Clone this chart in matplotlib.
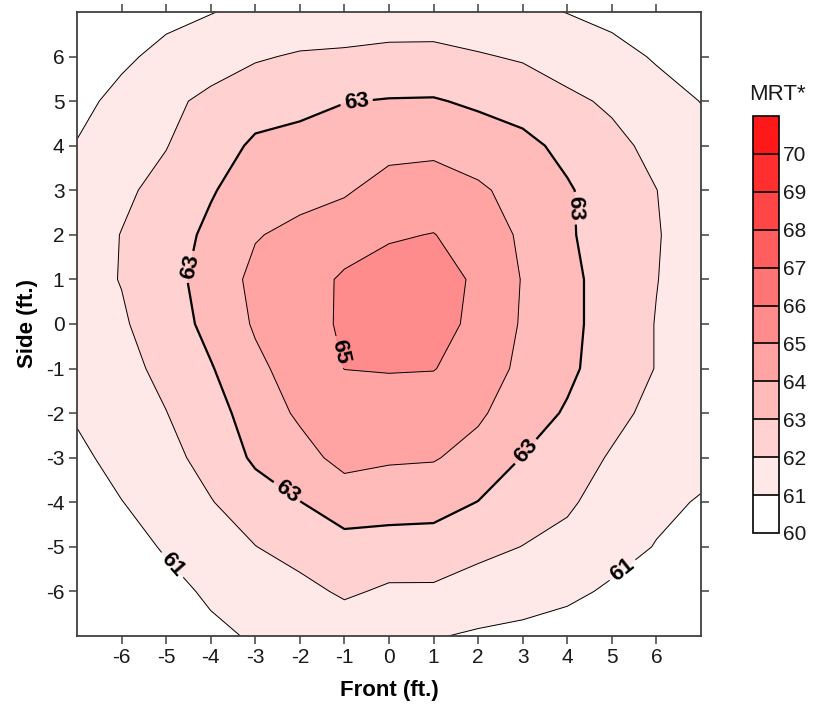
import numpy as np
import matplotlib
matplotlib.use("Agg")
import matplotlib.pyplot as plt

plt.rcParams['font.family'] = ['Liberation Sans', 'DejaVu Sans']
plt.rcParams['axes.unicode_minus'] = False

# grid positions (ft.)
front_ft = [-7, -6, -5, -4, -3, -2, -1, 0, 1, 2, 3, 4, 5, 6, 7]
side_ft = [7, 6, 5, 4, 3, 2, 1, 0, -1, -2, -3, -4, -5, -6, -7]

# MRT values, one row per side position (front -7 .. 7)
mrt_s7 = [60.1, 60.3, 60.7, 60.97, 61.2, 61.3, 61.4, 61.45, 61.5, 61.35, 61.2, 60.98, 60.7, 60.35, 60.05]
mrt_s6 = [60.4, 60.8, 61.3, 61.5, 61.9, 62.1, 62.15, 62.26, 62.25, 62.08, 61.9, 61.55, 61.35, 60.9, 60.5]
mrt_s5 = [60.7, 61.3, 61.75, 62.25, 62.6, 62.75, 62.97, 63.05, 63.07, 62.85, 62.6, 62.2, 61.85, 61.4, 60.98]
mrt_s4 = [61.05, 61.6, 61.97, 62.55, 63.15, 63.3, 63.55, 63.73, 63.8, 63.5, 63.25, 62.75, 62.25, 61.75, 61.3]
mrt_s3 = [61.35, 61.85, 62.25, 62.9, 63.6, 63.75, 63.9, 64.34, 64.4, 64.15, 63.65, 63.1, 62.5, 62.01, 61.5]
mrt_s2 = [61.6, 62.02, 62.45, 63.25, 63.95, 64.2, 64.5, 64.9, 65.03, 64.55, 63.85, 63.1, 62.6, 62.05, 61.6]
mrt_s1 = [61.7, 62.03, 62.55, 63.5, 64.2, 64.5, 65.15, 65.4, 65.4, 64.85, 63.95, 63.3, 62.5, 62.02, 61.6]
mrt_s0 = [61.6, 61.9, 62.45, 63.3, 64.1, 64.55, 65.15, 65.6, 65.3, 64.8, 63.9, 63.3, 62.5, 61.97, 61.55]
mrt_sm1 = [61.4, 61.7, 62.25, 62.93, 63.8, 64.4, 65.01, 65.05, 65.03, 64.6, 63.75, 63.2, 62.5, 61.97, 61.5]
mrt_sm2 = [61.1, 61.5, 61.98, 62.6, 63.45, 64.15, 64.55, 64.58, 64.5, 64.15, 63.45, 62.9, 62.3, 61.7, 61.35]
mrt_sm3 = [60.8, 61.3, 61.7, 62.35, 63.15, 63.65, 64.3, 64.12, 64.07, 63.65, 62.97, 62.5, 61.9, 61.4, 61.2]
mrt_sm4 = [60.5, 60.98, 61.4, 61.95, 62.55, 62.98, 63.45, 63.4, 63.35, 62.98, 62.55, 62.15, 61.55, 61.15, 60.95]
mrt_sm5 = [60.3, 60.6, 61.1, 61.5, 61.98, 62.4, 62.7, 62.62, 62.6, 62.3, 61.98, 61.7, 61.25, 60.97, 60.6]
mrt_sm6 = [60.15, 60.3, 60.7, 61.15, 61.5, 61.7, 62.15, 61.85, 61.85, 61.5, 61.35, 61.15, 60.9, 60.55, 60.3]
mrt_sm7 = [60.05, 60.1, 60.4, 60.8, 61.1, 61.25, 61.35, 61.15, 61.05, 60.9, 60.8, 60.7, 60.45, 60.2, 60.05]

levels = [60, 61, 62, 63, 64, 65, 66, 67, 68, 69, 70, 71]
plain_levels = [62, 64]
labelled_levels = [61, 63, 65]
cbar_ticks = [60, 61, 62, 63, 64, 65, 66, 67, 68, 69, 70]
band_colors = ['#ffffff', '#ffe8e8', '#ffd1d1', '#ffbaba', '#ffa3a3', '#ff8c8c',
               '#ff7575', '#ff5e5e', '#ff4646', '#ff2f2f', '#ff1818']

Z = np.array([mrt_s7, mrt_s6, mrt_s5, mrt_s4, mrt_s3, mrt_s2, mrt_s1, mrt_s0,
              mrt_sm1, mrt_sm2, mrt_sm3, mrt_sm4, mrt_sm5, mrt_sm6, mrt_sm7])
X, Y = np.meshgrid(front_ft, side_ft)

fig = plt.figure(figsize=(8.17, 7.08), dpi=100)
ax = fig.add_axes([0.0942, 0.1017, 0.7638, 0.8814])

cf = ax.contourf(X, Y, Z, levels=levels, colors=band_colors)
ax.contour(X, Y, Z, levels=plain_levels, colors='black', linewidths=0.7)
lw = [1.6 if lv == 63 else 0.7 for lv in labelled_levels]
cs = ax.contour(X, Y, Z, levels=labelled_levels, colors='black', linewidths=lw)

label_spots = [(-0.73, 5.0), (-4.47, 1.28), (4.27, 2.6), (-2.3, -3.78), (3.08, -2.87),
               (-1.11, -0.63), (-4.9, -5.44), (5.32, -5.62)]
lbls = ax.clabel(cs, manual=label_spots, fmt='%d',
                 fontsize=16, inline=True, inline_spacing=4)
for t in lbls:
    t.set_fontweight('bold')

ax.set_xlim(-7, 7)
ax.set_ylim(-7, 7)
ax.set_xticks(range(-6, 7))
ax.set_yticks(range(-6, 7))
ax.tick_params(direction='out', length=6, width=1.1, colors='#404040',
               labelcolor='#1a1a1a', labelsize=15, top=True, right=True,
               labeltop=False, labelright=False, pad=3)
for sp in ax.spines.values():
    sp.set_color('#404040')
    sp.set_linewidth(1.3)

ax.set_xlabel('Front (ft.)', fontsize=16, fontweight='bold', labelpad=9)
ax.set_ylabel('Side (ft.)', fontsize=16, fontweight='bold', labelpad=6)

cax = fig.add_axes([0.9217, 0.2472, 0.0318, 0.589])
cb = fig.colorbar(cf, cax=cax, ticks=cbar_ticks, drawedges=True)
cb.outline.set_edgecolor('black')
cb.outline.set_linewidth(1.2)
cb.dividers.set_color('black')
cb.dividers.set_linewidth(1.2)
cax.tick_params(length=0, labelsize=15, labelcolor='#1a1a1a', pad=3)
fig.text(0.951, 0.866, 'MRT*', fontsize=16, color='#1a1a1a', ha='center', va='center')

fig.savefig('out.png', dpi=100)
